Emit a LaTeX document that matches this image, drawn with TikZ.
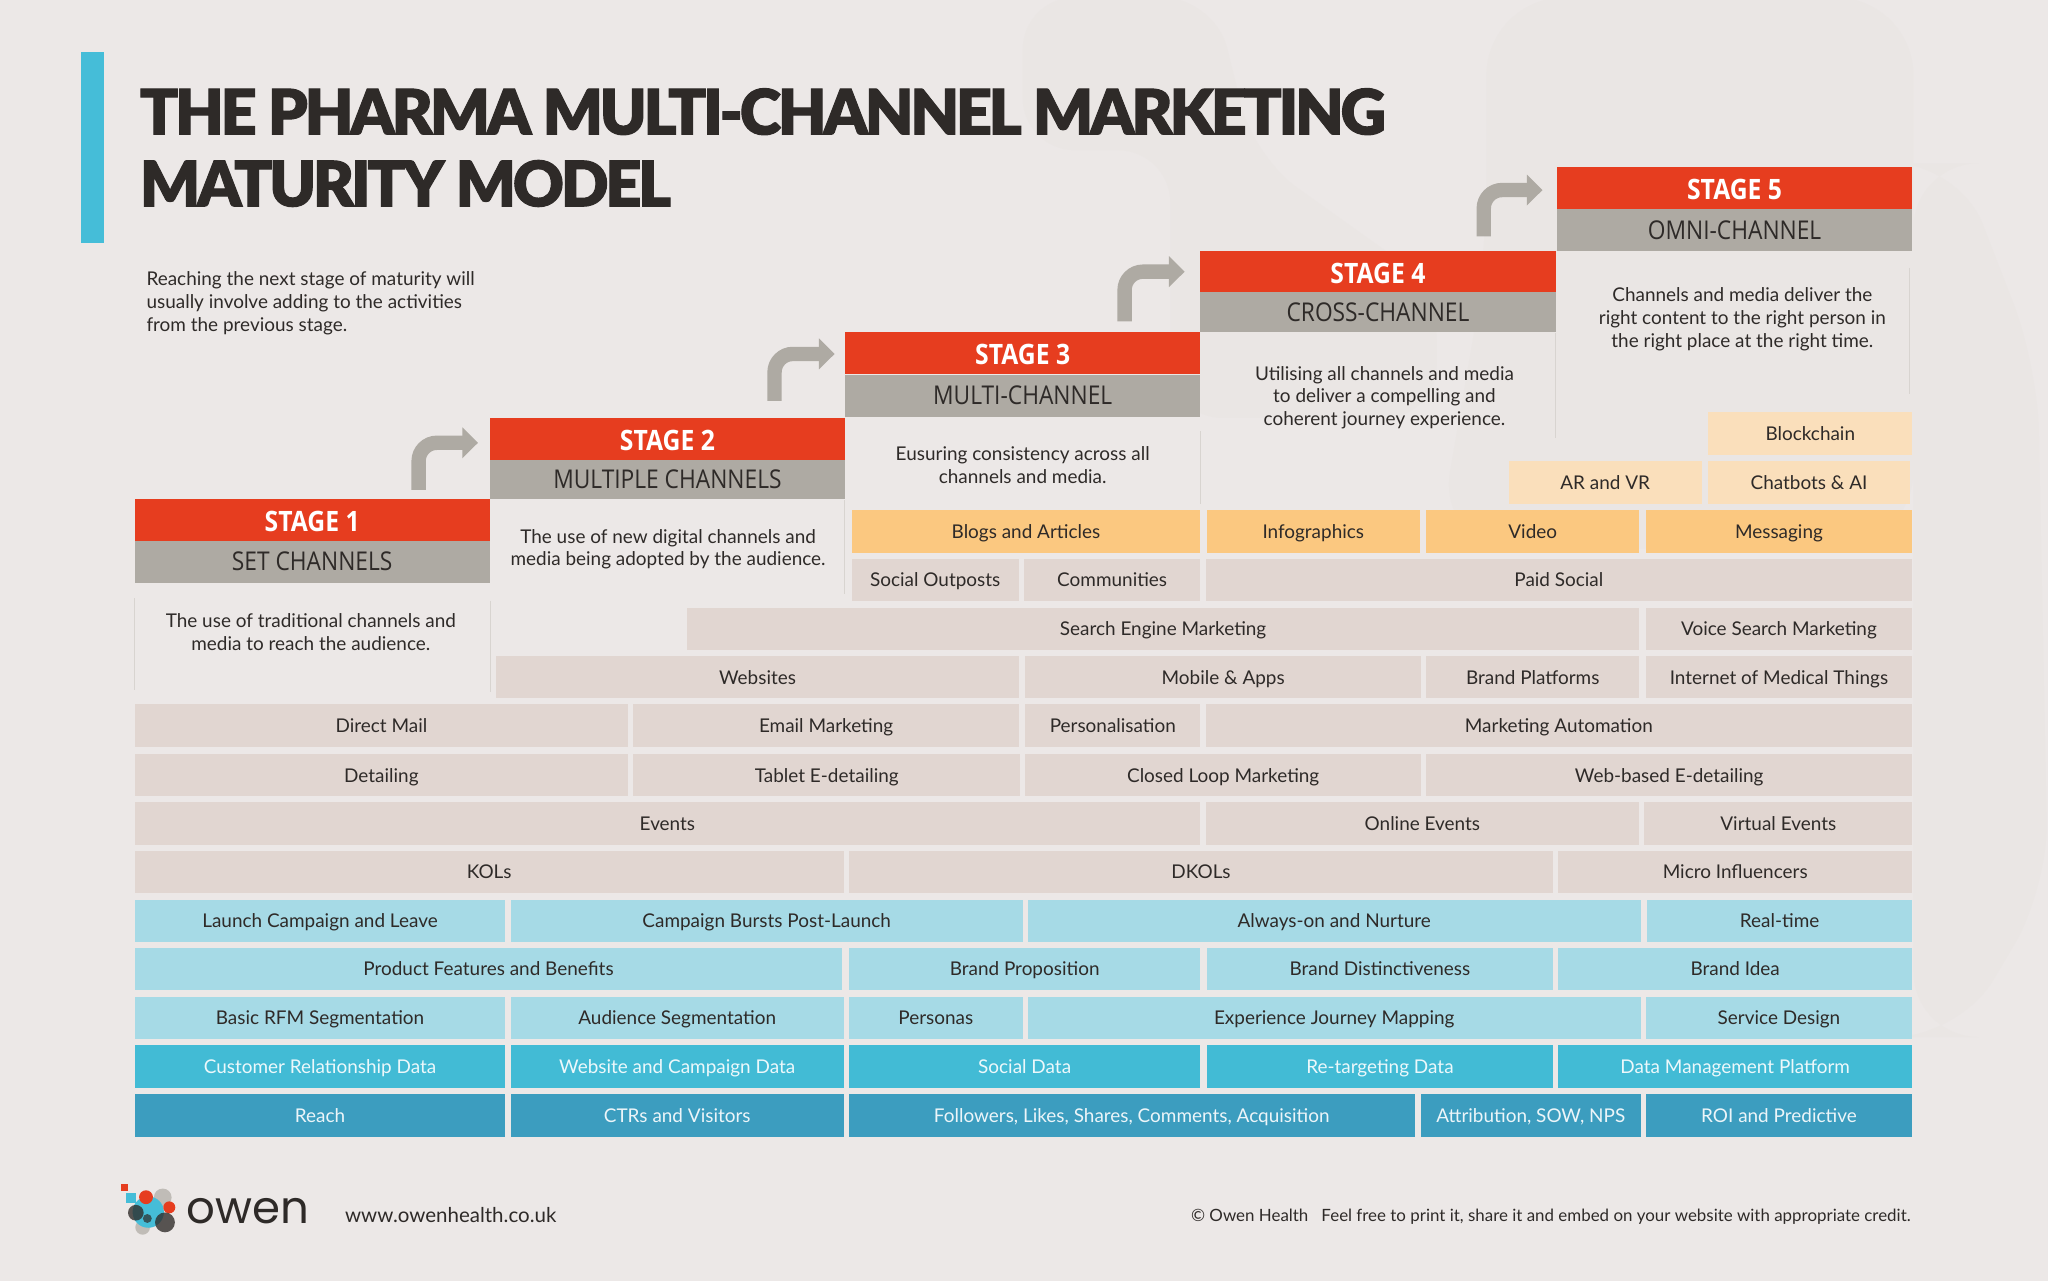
\documentclass[tikz,border=0pt]{standalone}
\usepackage{fontspec}
\usepackage{xcolor}
\usetikzlibrary{arrows.meta}
\setmainfont{Lato}
\newfontfamily\titlefont[LetterSpace=-5,FakeBold=1.6]{Lato Black}
\newfontfamily\stagefont[FakeStretch=0.88]{Open Sans}
\newfontfamily\logofont{Poppins}
\definecolor{paper}{HTML}{ECE8E7}
\definecolor{blobtone}{HTML}{EAE6E4}
\definecolor{inktone}{HTML}{2E2A28}
\definecolor{stagered}{HTML}{E63D1F}
\definecolor{stagegrey}{HTML}{AEAAA3}
\definecolor{beigetone}{HTML}{E1D6D1}
\definecolor{orangetone}{HTML}{FBC880}
\definecolor{paleorange}{HTML}{FADFBB}
\definecolor{paleblue}{HTML}{A6DAE6}
\definecolor{midblue}{HTML}{42BBD5}
\definecolor{deepblue}{HTML}{3C9DBF}
\definecolor{barblue}{HTML}{45BDD8}
\definecolor{sideline}{HTML}{D8D4D0}
\tikzset{
  x=1pt,y=1pt,
  chan/.style={inner sep=0pt,minimum height=32.5pt,text height=12pt,text depth=1.5pt,text=inktone,font=\fontsize{14.5}{17.4}\selectfont},
  beige/.style={chan,fill=beigetone},
  orange/.style={chan,fill=orangetone},
  paleorng/.style={chan,fill=paleorange},
  lightblue/.style={chan,fill=paleblue},
  datablue/.style={chan,fill=midblue,text=white!90!midblue},
  metricblue/.style={chan,fill=deepblue,text=white!90!deepblue},
  stagetop/.style={inner sep=0pt,minimum width=272pt,minimum height=32pt,text height=17.4pt,text depth=0pt,fill=stagered,text=white,font=\stagefont\bfseries\fontsize{21.5}{24}\selectfont},
  stagesub/.style={inner sep=0pt,minimum width=272pt,minimum height=32pt,fill=stagegrey,text=inktone,font=\stagefont\fontsize{19.8}{22}\selectfont},
  stagenote/.style={inner sep=0pt,align=center,text=inktone,font=\fontsize{14.5}{17.4}\selectfont},
  steparrow/.style={draw=stagegrey,line width=11pt,rounded corners=14pt,-{Triangle[length=12pt,width=23pt]}},
}
\begin{document}
\begin{tikzpicture}
\useasboundingbox (0,0) rectangle (1568,980);
\fill[paper] (-2,-2) rectangle (1570,982);
\fill[blobtone,rounded corners=40pt] (783,982) -- (783,865) -- (896,865) -- (896,660) -- (1100,660) -- (1100,760) -- (960,860) -- (930,982) -- cycle;
\fill[blobtone,rounded corners=60pt] (1138,982) -- (1138,780) -- (1100,560) -- (1465,560) -- (1465,982) -- cycle;
\fill[blobtone,rounded corners=50pt] (1465,855) -- (1500,855) -- (1560,700) -- (1568,300) -- (1500,186) -- (1465,186) -- cycle;
\fill[barblue] (62,794) rectangle (80,940);
\node[anchor=west,inner sep=0pt,align=left,text=inktone,font=\titlefont\fontsize{48}{55}\selectfont] (title) at (107,867) {THE PHARMA MULTI-CHANNEL MARKETING\\MATURITY MODEL};
\node[anchor=north west,inner sep=0pt,align=left,text=inktone,font=\fontsize{14.5}{17.4}\selectfont] (intro) at (112,772) {Reaching the next stage of maturity will\\usually involve adding to the activities\\from the previous stage.};

\node[stagetop] (stageone) at (239,582) {STAGE 1};
\node[stagesub] (setchannels) at (239,550) {SET CHANNELS};
\node[stagetop] (stagetwo) at (511,644) {STAGE 2};
\node[stagesub,minimum height=30pt] (multiplechannels) at (511,613) {MULTIPLE CHANNELS};
\node[stagetop] (stagethree) at (783,709.5) {STAGE 3};
\node[stagesub] (multichannel) at (783,677) {MULTI-CHANNEL};
\node[stagetop] (stagefour) at (1055,772) {STAGE 4};
\node[stagesub,minimum height=30.5pt] (crosschannel) at (1055,741) {CROSS-CHANNEL};
\node[stagetop] (stagefive) at (1328,836) {STAGE 5};
\node[stagesub] (omnichannel) at (1328,804) {OMNI-CHANNEL};

\coordinate (tailone) at (320.5,605);
\coordinate (headone) at (366,641);
\coordinate (tailtwo) at (593,673);
\coordinate (headtwo) at (639,709);
\coordinate (tailthree) at (861,734);
\coordinate (headthree) at (907,772);
\coordinate (tailfour) at (1136,799);
\coordinate (headfour) at (1181,834.5);
\draw[steparrow] (tailone) |- (headone);
\draw[steparrow] (tailtwo) |- (headtwo);
\draw[steparrow] (tailthree) |- (headthree);
\draw[steparrow] (tailfour) |- (headfour);

\draw[sideline] (103,522) -- (103,452);
\draw[sideline] (375,520) -- (375,450);
\draw[sideline] (646.5,597) -- (646.5,525);
\draw[sideline] (919,650) -- (919,594);
\draw[sideline] (1191,725) -- (1191,645);
\draw[sideline] (1462,775) -- (1462,678);

\node[stagenote] (noteone) at (238,496) {The use of traditional channels and\\media to reach the audience.};
\node[stagenote] (notetwo) at (511.5,559.5) {The use of new digital channels and\\media being adopted by the audience.};
\node[stagenote] (notethree) at (783,624) {Eusuring consistency across all\\channels and media.};
\node[stagenote] (notefour) at (1060,675.5) {Utilising all channels and media\\to deliver a compelling and\\coherent journey experience.};
\node[stagenote] (notefive) at (1334,735.5) {Channels and media deliver the\\right content to the right person in\\the right place at the right time.};

\node[paleorng,minimum width=156pt] (blockchain) at (1386,648) {Blockchain};
\node[paleorng,minimum width=148pt] (arvr) at (1229,610.5) {AR and VR};
\node[paleorng,minimum width=154pt] (chatbots) at (1385,610.5) {Chatbots \& AI};

\node[orange,minimum width=267pt] (blogs) at (785.5,573) {Blogs and Articles};
\node[orange,minimum width=163pt] (infographics) at (1005.5,573) {Infographics};
\node[orange,minimum width=163pt] (video) at (1173.5,573) {Video};
\node[orange,minimum width=204pt] (messaging) at (1362,573) {Messaging};

\node[beige,minimum width=128pt] (outposts) at (716,536) {Social Outposts};
\node[beige,minimum width=135pt] (communities) at (851.5,536) {Communities};
\node[beige,minimum width=541pt] (paidsocial) at (1193.5,536) {Paid Social};

\node[beige,minimum width=729pt] (sem) at (890.5,498.5) {Search Engine Marketing};
\node[beige,minimum width=204pt] (voice) at (1362,498.5) {Voice Search Marketing};

\node[beige,minimum width=400pt] (websites) at (580,461.5) {Websites};
\node[beige,minimum width=303pt] (mobile) at (936.5,461.5) {Mobile \& Apps};
\node[beige,minimum width=163pt] (platforms) at (1173.5,461.5) {Brand Platforms};
\node[beige,minimum width=204pt] (iomt) at (1362,461.5) {Internet of Medical Things};

\node[beige,minimum width=378pt] (directmail) at (292,424.5) {Direct Mail};
\node[beige,minimum width=295pt] (email) at (632.5,424.5) {Email Marketing};
\node[beige,minimum width=134pt] (personal) at (852,424.5) {Personalisation};
\node[beige,minimum width=541pt] (automation) at (1193.5,424.5) {Marketing Automation};

\node[beige,minimum width=378pt] (detailing) at (292,386.5) {Detailing};
\node[beige,minimum width=296pt] (tablet) at (633,386.5) {Tablet E-detailing};
\node[beige,minimum width=303pt] (closedloop) at (936.5,386.5) {Closed Loop Marketing};
\node[beige,minimum width=372pt] (webbased) at (1278,386.5) {Web-based E-detailing};

\node[beige,minimum width=816pt] (events) at (511,349.5) {Events};
\node[beige,minimum width=332pt] (online) at (1089,349.5) {Online Events};
\node[beige,minimum width=205pt] (virtual) at (1361.5,349.5) {Virtual Events};

\node[beige,minimum width=543pt] (kols) at (374.5,312.5) {KOLs};
\node[beige,minimum width=539pt] (dkols) at (919.5,312.5) {DKOLs};
\node[beige,minimum width=271pt] (micro) at (1328.5,312.5) {Micro Influencers};

\node[lightblue,minimum width=284pt] (launch) at (245,275) {Launch Campaign and Leave};
\node[lightblue,minimum width=392pt] (bursts) at (587,275) {Campaign Bursts Post-Launch};
\node[lightblue,minimum width=469pt] (alwayson) at (1021.5,275) {Always-on and Nurture};
\node[lightblue,minimum width=203pt] (realtime) at (1362.5,275) {Real-time};

\node[lightblue,minimum width=542pt] (features) at (374,238) {Product Features and Benefits};
\node[lightblue,minimum width=269pt] (proposition) at (784.5,238) {Brand Proposition};
\node[lightblue,minimum width=265pt] (distinct) at (1056.5,238) {Brand Distinctiveness};
\node[lightblue,minimum width=271pt] (idea) at (1328.5,238) {Brand Idea};

\node[lightblue,minimum width=284pt] (rfm) at (245,200.5) {Basic RFM Segmentation};
\node[lightblue,minimum width=255pt] (audience) at (518.5,200.5) {Audience Segmentation};
\node[lightblue,minimum width=133pt] (personas) at (716.5,200.5) {Personas};
\node[lightblue,minimum width=469pt] (journey) at (1021.5,200.5) {Experience Journey Mapping};
\node[lightblue,minimum width=204pt] (service) at (1362,200.5) {Service Design};

\node[datablue,minimum width=284pt] (crm) at (245,163.5) {Customer Relationship Data};
\node[datablue,minimum width=255pt] (webdata) at (518.5,163.5) {Website and Campaign Data};
\node[datablue,minimum width=269pt] (socialdata) at (784.5,163.5) {Social Data};
\node[datablue,minimum width=265pt] (retargeting) at (1056.5,163.5) {Re-targeting Data};
\node[datablue,minimum width=271pt] (dmp) at (1328.5,163.5) {Data Management Platform};

\node[metricblue,minimum width=284pt] (reach) at (245,126) {Reach};
\node[metricblue,minimum width=255pt] (ctrs) at (518.5,126) {CTRs and Visitors};
\node[metricblue,minimum width=433pt] (followers) at (866.5,126) {Followers, Likes, Shares, Comments, Acquisition};
\node[metricblue,minimum width=168pt] (attribution) at (1172,126) {Attribution, SOW, NPS};
\node[metricblue,minimum width=204pt] (roi) at (1362,126) {ROI and Predictive};

\fill[stagered] (92.7,67.8) rectangle (98.3,73.4);
\fill[barblue] (96.5,58.7) rectangle (104.1,66.3);
\fill[stagegrey,opacity=.7] (124.6,63.2) circle (6.8);
\fill[stagegrey,opacity=.7] (109.2,40.3) circle (5.6);
\fill[barblue] (113.5,52) circle (12);
\fill[stagered] (111.8,63.4) circle (5.3);
\fill[stagered] (129.6,55.6) circle (4.6);
\fill[inktone,opacity=.78] (104,51.5) circle (6);
\fill[inktone,opacity=.78] (126.3,44.1) circle (7.6);
\fill[inktone,opacity=.7] (112.8,47.1) circle (3.4);
\node[anchor=base west,inner sep=0pt,text=inktone,font=\logofont\fontsize{34.5}{40}\selectfont] (owen) at (142.5,43.4) {owen};
\node[anchor=base west,inner sep=0pt,text=inktone,font=\fontsize{15.7}{19}\selectfont] (web) at (264,44) {www.owenhealth.co.uk};
\node[anchor=base east,inner sep=0pt,text=inktone,font=\fontsize{12.95}{16}\selectfont] (credit) at (1463,44.5) {© Owen Health\hspace{10pt}Feel free to print it, share it and embed on your website with appropriate credit.};
\end{tikzpicture}
\end{document}
